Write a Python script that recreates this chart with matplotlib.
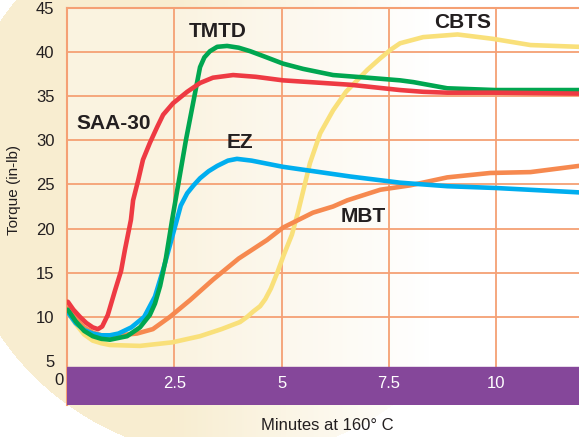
"""
courbes de torque en fonction du temps a 160 C
"""

import numpy as np
import matplotlib
matplotlib.use('Agg')
from matplotlib import pyplot as plt
from matplotlib import transforms

# valeurs (minutes, torque en in-lb)
saa_x = [0.02, 0.15, 0.3, 0.45, 0.6, 0.72, 0.82, 0.95, 1.12, 1.26, 1.35, 1.49, 1.54,
         1.66, 1.77, 1.93, 2.1, 2.24, 2.47, 2.8, 3.1, 3.4, 3.87, 4.4, 5.03, 6.6, 7.76,
         8.3, 8.86, 9.98, 11.93]
saa_y = [11.7, 10.8, 10.0, 9.3, 8.8, 8.6, 8.9, 10.2, 13.0, 15.2, 17.6, 21.0, 23.2,
         25.5, 27.8, 29.7, 31.5, 32.9, 34.2, 35.5, 36.5, 37.1, 37.4, 37.2, 36.8, 36.3,
         35.7, 35.5, 35.4, 35.4, 35.3]

tmtd_x = [0.02, 0.2, 0.4, 0.6, 0.8, 1.0, 1.4, 1.7, 1.93, 2.05, 2.17, 2.3, 2.45, 2.77,
          3.1, 3.2, 3.33, 3.5, 3.73, 4.0, 4.27, 4.6, 5.03, 5.5, 6.2, 7.0, 7.76, 8.07,
          8.86, 9.98, 11.93]
tmtd_y = [10.8, 9.5, 8.4, 7.8, 7.5, 7.4, 7.8, 8.8, 10.2, 11.5, 13.5, 16.5, 21.0, 30.0,
          38.3, 39.4, 40.1, 40.6, 40.7, 40.5, 40.1, 39.5, 38.7, 38.1, 37.4, 37.1, 36.8,
          36.6, 35.9, 35.7, 35.7]

ez_x = [0.02, 0.2, 0.4, 0.6, 0.8, 1.0, 1.2, 1.5, 1.8, 2.05, 2.25, 2.42, 2.55, 2.65, 2.8,
        2.95, 3.1, 3.3, 3.5, 3.75, 3.96, 4.3, 5.03, 6.6, 7.76, 8.86, 9.98, 11.93]
ez_y = [10.5, 9.3, 8.5, 8.1, 7.9, 7.9, 8.1, 8.8, 10.0, 12.3, 15.5, 18.5, 20.8, 22.6,
        24.0, 24.9, 25.7, 26.5, 27.1, 27.7, 27.9, 27.7, 27.0, 25.9, 25.2, 24.8, 24.6, 24.1]

cbts_x = [0.02, 0.2, 0.4, 0.6, 0.8, 1.0, 1.7, 2.45, 3.1, 3.6, 4.03, 4.2, 4.34, 4.5,
          4.62, 4.75, 4.9, 5.05, 5.24, 5.38, 5.5, 5.66, 5.9, 6.2, 6.5, 6.76, 7.0, 7.3,
          7.55, 7.76, 8.3, 9.1, 9.93, 10.8, 11.93]
cbts_y = [10.5, 9.2, 8.0, 7.3, 7.0, 6.8, 6.7, 7.1, 7.8, 8.6, 9.4, 10.0, 10.6, 11.2,
          12.0, 13.2, 15.0, 17.0, 19.3, 21.8, 24.2, 27.4, 30.8, 33.4, 35.5, 36.8, 38.0,
          39.3, 40.3, 41.0, 41.7, 42.0, 41.5, 40.8, 40.6]

mbt_x = [0.02, 0.2, 0.4, 0.6, 0.8, 1.0, 1.63, 2.0, 2.4, 2.87, 3.4, 4.0, 4.66, 5.03,
         5.73, 6.2, 6.53, 7.3, 8.0, 8.86, 9.86, 10.8, 11.93]
mbt_y = [11.0, 9.8, 8.8, 8.2, 7.9, 7.8, 8.1, 8.6, 10.0, 11.9, 14.2, 16.6, 18.7, 20.1,
         21.8, 22.5, 23.2, 24.4, 24.9, 25.8, 26.3, 26.4, 27.1]

x_ticks = [2.5, 5, 7.5, 10]
x_tick_labels = ['2.5', '5', '7.5', '10']
y_ticks = [5, 10, 15, 20, 25, 30, 35, 40, 45]

violet = '#85479A'
grille = '#F5A074'

if __name__ == '__main__':
    plt.rcParams['font.family'] = ['Liberation Sans', 'DejaVu Sans']
    fig = plt.figure(figsize=(5.79, 4.37), dpi=100)

    # fond : grand disque creme qui s'efface vers la droite
    fond = fig.add_axes([0, 0, 1, 1], zorder=-10)
    hh, ww = 437, 579
    px, py = np.meshgrid(np.arange(ww), np.arange(hh))
    dans = ((px - 230) ** 2 + (py - 178) ** 2) < 279 ** 2
    alpha = np.clip((430 - px) / 260.0, 0, 1) * dans
    img = np.zeros((hh, ww, 4))
    img[..., 0] = 248 / 255
    img[..., 1] = 237 / 255
    img[..., 2] = 208 / 255
    img[..., 3] = alpha
    fond.imshow(img, extent=(0, ww, hh, 0), aspect='auto')
    fond.set_xlim(0, ww)
    fond.set_ylim(hh, 0)
    fond.axis('off')

    ax = fig.add_axes([67 / 579, 32 / 437, 512 / 579, 397 / 437])
    ax.set_facecolor((1, 1, 1, 0.35))
    ax.set_xlim(0, 11.93)
    ax.set_ylim(0, 45)

    for yv in [10, 15, 20, 25, 30, 35, 40]:
        ax.axhline(yv, color=grille, lw=1.3, zorder=1)
    for xv in x_ticks:
        ax.axvline(xv, color=grille, lw=1.3, zorder=1)

    for s in ['right', 'bottom']:
        ax.spines[s].set_visible(False)
    for s in ['left', 'top']:
        ax.spines[s].set_color(grille)
        ax.spines[s].set_linewidth(1.5)

    style = dict(lw=3.3, solid_joinstyle='round', solid_capstyle='round', zorder=3)
    ax.plot(cbts_x, cbts_y, color='#F9E07A', **style)
    ax.plot(mbt_x, mbt_y, color='#F6894F', **style)
    ax.plot(ez_x, ez_y, color='#00AEEF', **style)
    ax.plot(tmtd_x, tmtd_y, color='#00A650', **style)
    ax.plot(saa_x, saa_y, color='#EE3A43', **style)

    # bande violette avec les graduations en blanc
    ax.axhspan(0, 4.3, color=violet, zorder=5)
    for xv, lab in zip(x_ticks, x_tick_labels):
        ax.text(xv, 2.45, lab, color='white', fontsize=12, ha='center', va='center', zorder=6)

    ax.set_xticks([])
    ax.set_yticks(y_ticks)
    ax.tick_params(axis='y', length=0, pad=9, labelsize=12, labelcolor='#231F20')
    trans = transforms.blended_transform_factory(ax.transAxes, ax.transData)
    ax.text(-0.006, 2.8, '0', transform=trans, ha='right', va='center', fontsize=12,
            color='#231F20')

    # noms des courbes
    nom = dict(fontsize=15, fontweight='bold', color='#231F20', ha='center', va='center',
               zorder=7)
    ax.text(3.52, 42.3, 'TMTD', **nom)
    ax.text(1.08, 31.9, 'SAA-30', **nom)
    ax.text(4.02, 29.8, 'EZ', **nom)
    ax.text(6.91, 21.4, 'MBT', **nom)
    ax.text(9.22, 43.4, 'CBTS', **nom)

    fig.text(14 / 579, 1 - 190 / 437, 'Torque (in-lb)', rotation=90, ha='center',
             va='center', fontsize=11, color='#231F20')
    fig.text(327 / 579, 1 - 426 / 437, 'Minutes at 160\u00b0 C', ha='center', va='center',
             fontsize=12, color='#231F20')

    fig.savefig('out.png', dpi=100)
